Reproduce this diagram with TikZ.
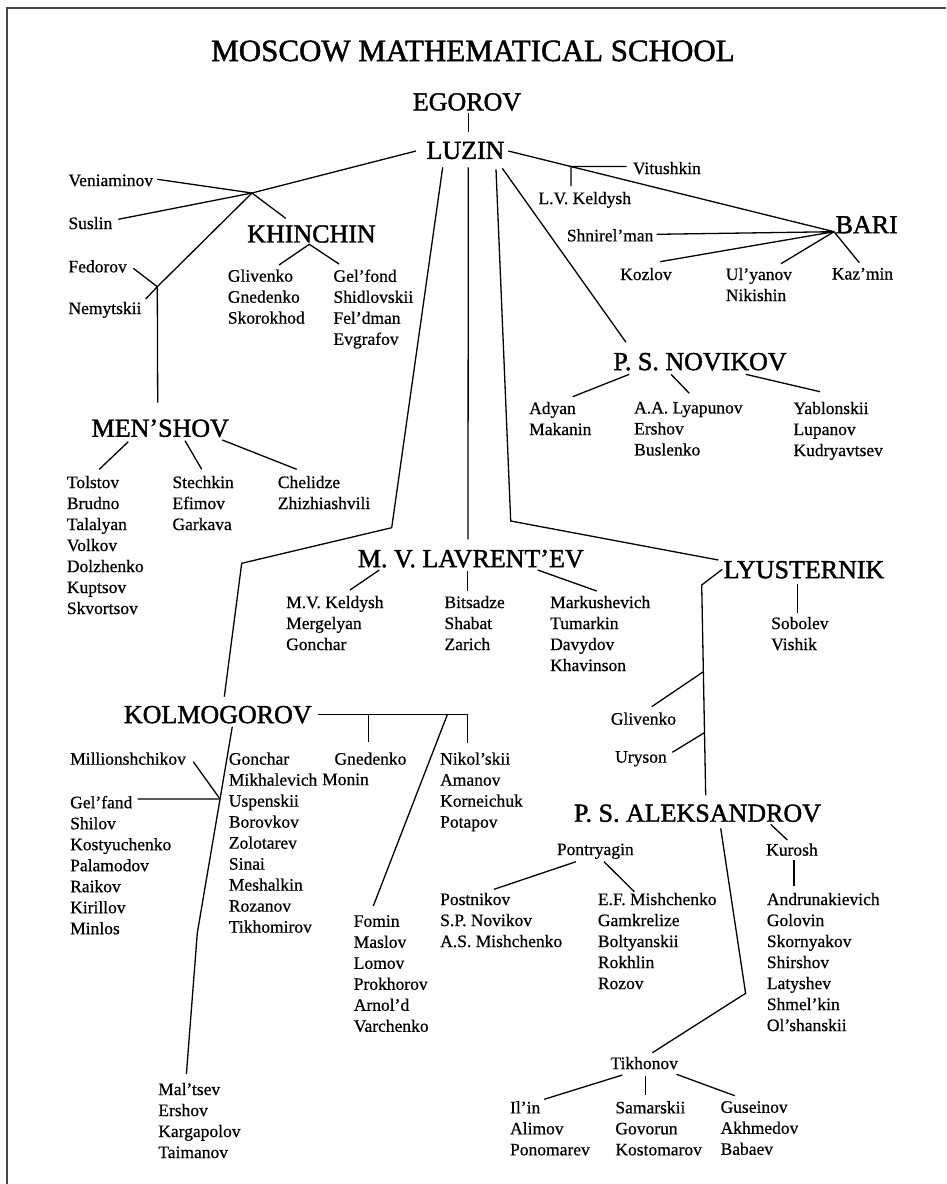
\documentclass[tikz,border=0pt]{standalone}
\usepackage{fontspec}
\setmainfont{Liberation Serif}
\newfontfamily\headfont[FakeBold=1.5]{Liberation Serif}
\newfontfamily\namefont[FakeBold=0.6]{Liberation Serif}
\usepackage{xcolor}
\usetikzlibrary{calc}
\definecolor{framegray}{RGB}{70,70,70}

\begin{document}
\begin{tikzpicture}[x=1pt, y=-1pt]
    \tikzstyle{head}=[font=\headfont\fontsize{26}{30}\selectfont, inner sep=0pt]
    \tikzstyle{names}=[font=\namefont\fontsize{17.5}{21}\selectfont, align=left, anchor=north west, inner sep=0pt]
    \tikzstyle{link}=[line width=1.3pt]
    \useasboundingbox (0,0) rectangle (946,1184);
    \draw[line width=1.3pt, framegray] (7,1184) -- (7,8) -- (946,8);

    % headings
    \node[font=\headfont\fontsize{31}{36}\selectfont] (title) at (473,51) {MOSCOW MATHEMATICAL SCHOOL};
    \node[head] (egorov) at (467,102) {EGOROV};
    \node[head] (luzin) at (465.5,150.5) {LUZIN};
    \node[head] (khinchin) at (311.5,234) {KHINCHIN};
    \node[head] (bari) at (866.7,224.7) {BARI};
    \node[head] (menshov) at (160.3,428.3) {MEN’SHOV};
    \node[head] (novikov) at (700,361.7) {P. S. NOVIKOV};
    \node[head] (lavrentev) at (470.8,558.7) {M. V. LAVRENT’EV};
    \node[head] (lyusternik) at (804,569.7) {LYUSTERNIK};
    \node[head] (kolmogorov) at (217.8,714.7) {KOLMOGOROV};
    \node[head] (aleksandrov) at (697.5,813.3) {P. S. ALEKSANDROV};

    % students
    \node[names] (veniaminov) at (68.3,174.3) {Veniaminov};
    \node[names] (suslin) at (68.3,216.7) {Suslin};
    \node[names] (fedorov) at (68.3,260) {Fedorov};
    \node[names] (nemytskii) at (68.3,301.7) {Nemytskii};
    \node[names] (glivenko) at (227.7,269.3) {Glivenko\\Gnedenko\\Skorokhod};
    \node[names] (gelfond) at (333.3,269.3) {Gel’fond\\Shidlovskii\\Fel’dman\\Evgrafov};
    \node[names] (vitushkin) at (632.7,161.7) {Vitushkin};
    \node[names] (lvkeldysh) at (538.3,191.7) {L.V. Keldysh};
    \node[names] (shnirelman) at (566.7,229) {Shnirel’man};
    \node[names] (kozlov) at (620,267.7) {Kozlov};
    \node[names] (ulyanov) at (725.7,267.7) {Ul’yanov\\Nikishin};
    \node[names] (kazmin) at (831.7,267.7) {Kaz’min};
    \node[names] (tolstov) at (66.7,475.7) {Tolstov\\Brudno\\Talalyan\\Volkov\\Dolzhenko\\Kuptsov\\Skvortsov};
    \node[names] (stechkin) at (172.3,475.7) {Stechkin\\Efimov\\Garkava};
    \node[names] (chelidze) at (277.7,475.7) {Chelidze\\Zhizhiashvili};
    \node[names] (adyan) at (529,401.7) {Adyan\\Makanin};
    \node[names] (lyapunov) at (634,401.7) {A.A. Lyapunov\\Ershov\\Buslenko};
    \node[names] (yablonskii) at (793.3,401.7) {Yablonskii\\Lupanov\\Kudryavtsev};
    \node[names] (mvkeldysh) at (286,595.7) {M.V. Keldysh\\Mergelyan\\Gonchar};
    \node[names] (bitsadze) at (444.3,595.7) {Bitsadze\\Shabat\\Zarich};
    \node[names] (markushevich) at (550,595.7) {Markushevich\\Tumarkin\\Davydov\\Khavinson};
    \node[names] (sobolev) at (771,616.7) {Sobolev\\Vishik};
    \node[names] (glivenkoL) at (610.7,712.3) {Glivenko};
    \node[names] (uryson) at (615,751) {Uryson};
    \node[names] (millionshchikov) at (70,752.3) {Millionshchikov};
    \node[names] (gelfand) at (70,795.7) {Gel’fand\\Shilov\\Kostyuchenko\\Palamodov\\Raikov\\Kirillov\\Minlos};
    \node[names] (gonchar) at (228.7,752.3) {Gonchar\\Mikhalevich\\Uspenskii\\Borovkov\\Zolotarev\\Sinai\\Meshalkin\\Rozanov\\Tikhomirov};
    \node[names] (gnedenko) at (334.3,752.3) {Gnedenko};
    \node[names] (monin) at (322,773.3) {Monin};
    \node[names] (nikolskii) at (440,752.3) {Nikol’skii\\Amanov\\Korneichuk\\Potapov};
    \node[names] (fomin) at (353.6,915) {Fomin\\Maslov\\Lomov\\Prokhorov\\Arnol’d\\Varchenko};
    \node[names] (maltsev) at (158.1,1082.7) {Mal’tsev\\Ershov\\Kargapolov\\Taimanov};
    \node[names] (pontryagin) at (556.7,843.3) {Pontryagin};
    \node[names] (kurosh) at (766,843.3) {Kurosh};
    \node[names] (postnikov) at (440,892.7) {Postnikov\\S.P. Novikov\\A.S. Mishchenko};
    \node[names] (efmishchenko) at (597.7,892.7) {E.F. Mishchenko\\Gamkrelize\\Boltyanskii\\Rokhlin\\Rozov};
    \node[names] (andrunakievich) at (766.7,892.7) {Andrunakievich\\Golovin\\Skornyakov\\Shirshov\\Latyshev\\Shmel’kin\\Ol’shanskii};
    \node[names] (tikhonov) at (610.3,1056.7) {Tikhonov};
    \node[names] (ilin) at (509.9,1101) {Il’in\\Alimov\\Ponomarev};
    \node[names] (samarskii) at (615.2,1101) {Samarskii\\Govorun\\Kostomarov};
    \node[names] (guseinov) at (720.4,1101) {Guseinov\\Akhmedov\\Babaev};

    % Egorov, Luzin
    \coordinate (egorov-s) at (468.3,113);
    \coordinate (luzin-n) at (468.3,132);
    \draw[link] (egorov-s) -- (luzin-n);

    % Luzin: left branch
    \coordinate (luzin-w) at (416,151);
    \coordinate (j-khin) at (252,193);
    \coordinate (suslin-e) at (118.3,219.3);
    \coordinate (venia-e) at (157.3,179.3);
    \coordinate (khin-n) at (285.7,218.3);
    \coordinate (j-men) at (157.3,286.7);
    \coordinate (fedorov-e) at (133.3,268.3);
    \coordinate (nemyt-e) at (145.7,299);
    \coordinate (men-n) at (157.7,402.7);
    \draw[link] (luzin-w) -- (j-khin) -- (suslin-e);
    \draw[link] (venia-e) -- (j-khin) -- (khin-n);
    \draw[link] (j-khin) -- (j-men) -- (men-n);
    \draw[link] (fedorov-e) -- (j-men) -- (nemyt-e);

    % Khinchin
    \coordinate (khin-s) at (309.3,244.3);
    \coordinate (gliv-n) at (279,265);
    \coordinate (gelf-n) at (339,264);
    \draw[link] (gliv-n) -- (khin-s) -- (gelf-n);

    % Men'shov
    \draw[link] (128.3,441.7) coordinate (men-a) -- (99.3,469.3) coordinate (tolstov-n);
    \draw[link] (185,440.7) coordinate (men-b) -- (201.7,469.3) coordinate (stechkin-n);
    \draw[link] (222.3,440) coordinate (men-c) -- (296.7,469.3) coordinate (chelidze-n);

    % Luzin: Bari branch
    \coordinate (luzin-e) at (508.3,151);
    \coordinate (bari-hub) at (834,231.7);
    \coordinate (j-vit) at ($(luzin-e)!0.1925!(bari-hub)$);
    \coordinate (vit-w) at (626.7,166.5);
    \coordinate (lvk-n) at (571,186);
    \draw[link] (luzin-e) -- (bari-hub);
    \draw[link] (vit-w) -- (j-vit) -- (lvk-n);
    \coordinate (shnirel-e) at (656.7,234.3);
    \coordinate (kozlov-n) at (660,261.7);
    \coordinate (ulyanov-n) at (781,263.7);
    \coordinate (kazmin-n) at (859.3,262.7);
    \draw[link] (shnirel-e) -- (bari-hub) -- (kozlov-n);
    \draw[link] (ulyanov-n) -- (bari-hub) -- (kazmin-n);

    % Luzin: downward branches
    \coordinate (luzin-s1) at (442.7,167.3);
    \coordinate (luzin-s2) at (468.3,167.3);
    \coordinate (luzin-s3) at (496,169.3);
    \coordinate (luzin-s4) at (502.3,168.3);
    \coordinate (lav-n) at (468,539.3);
    \coordinate (nov-n) at (626,342.3);
    \coordinate (lyu-w) at (718.3,560);
    \coordinate (kol-n) at (224.3,696.7);
    \draw[link] (luzin-s2) -- (lav-n);
    \draw[link] (luzin-s4) -- (nov-n);
    \draw[link] (luzin-s3) -- (510.7,521) -- (lyu-w);
    \draw[link] (luzin-s1) -- (391.7,527.7) -- (241.7,563.3) -- (kol-n);

    % P. S. Novikov
    \draw[link] (629.3,374.3) coordinate (nov-a) -- (572.7,396.7) coordinate (adyan-n);
    \draw[link] (671,374.3) coordinate (nov-b) -- (689.3,393.3) coordinate (lyap-n);
    \draw[link] (745.7,374.3) coordinate (nov-c) -- (820,391.7) coordinate (yabl-n);

    % Lavrent'ev
    \draw[link] (379.3,570) coordinate (lav-a) -- (350,590) coordinate (mvk-n);
    \draw[link] (467.7,570.7) coordinate (lav-b) -- (467.7,590.7) coordinate (bits-n);
    \draw[link] (537.7,570) coordinate (lav-c) -- (596.7,591) coordinate (mark-n);

    % Lyusternik
    \coordinate (lyu-sw) at (722.3,569.3);
    \coordinate (lyu-bend) at (701.7,585);
    \coordinate (alek-n) at (705.7,795);
    \coordinate (j-gliv) at ($(lyu-bend)!0.413!(alek-n)$);
    \coordinate (j-ury) at ($(lyu-bend)!0.703!(alek-n)$);
    \draw[link] (lyu-sw) -- (lyu-bend) -- (alek-n);
    \draw[link] (j-gliv) -- (651.7,706.7) coordinate (glivL-e);
    \draw[link] (j-ury) -- (672.3,752.3) coordinate (ury-e);
    \draw[link] (797.7,584) coordinate (lyu-s) -- (797.7,612.7) coordinate (sobolev-n);

    % Kolmogorov
    \coordinate (kol-e) at (318.3,714.7);
    \coordinate (kol-end) at (467.7,714.7);
    \draw[link] (kol-e) -- (kol-end) -- (467.7,743.3) coordinate (nikol-n);
    \draw[link] (368.3,714.7) coordinate (j-gned) -- (368.3,741.7) coordinate (gned-n);
    \draw[link] (447.3,714.7) coordinate (j-fomin) -- (373.3,906) coordinate (fomin-n);
    \coordinate (kol-s) at (232.3,726.7);
    \coordinate (kol-bend) at (197.3,933);
    \coordinate (j-gelf) at ($(kol-s)!0.3505!(kol-bend)$);
    \draw[link] (kol-s) -- (kol-bend) -- (186.4,1074) coordinate (maltsev-n);
    \draw[link] (193.3,761.7) coordinate (mill-e) -- (j-gelf);
    \draw[link] (137.7,799) coordinate (gelfand-e) -- (j-gelf);

    % P. S. Aleksandrov
    \draw[link] (770.7,824.3) coordinate (alek-a) -- (787.3,840) coordinate (kurosh-n);
    \draw[link] (794,860) coordinate (kurosh-s) -- (794,885.7) coordinate (andr-n);
    \draw[link] (576,861.7) coordinate (pont-a) -- (494,889.3) coordinate (postn-n);
    \draw[link] (604,861.7) coordinate (pont-b) -- (634.3,891.7) coordinate (efm-n);
    \draw[link] (720.7,828.3) coordinate (alek-s) -- (745.6,993.3) -- (652.4,1052.7) coordinate (tikh-n);

    % Tikhonov
    \draw[link] (622.4,1075) coordinate (tikh-a) -- (544.2,1099.3) coordinate (ilin-n);
    \draw[link] (645.2,1075.7) coordinate (tikh-b) -- (645.2,1095) coordinate (sam-n);
    \draw[link] (676.5,1074.3) coordinate (tikh-c) -- (734.8,1095.7) coordinate (gus-n);
\end{tikzpicture}
\end{document}
